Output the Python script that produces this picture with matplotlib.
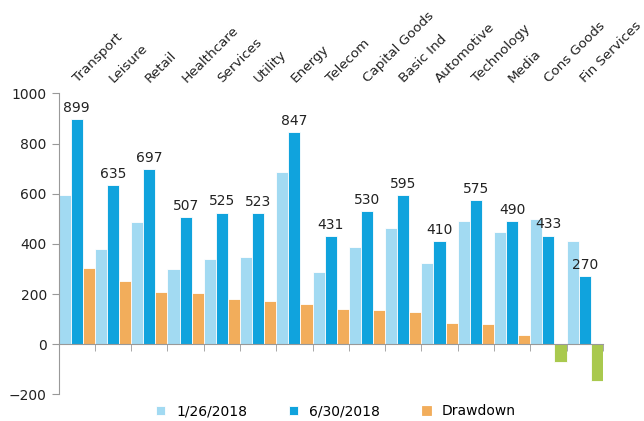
import numpy as np
import matplotlib.pyplot as plt

sectors = ['Transport', 'Leisure', 'Retail', 'Healthcare', 'Services', 'Utility', 'Energy',
           'Telecom', 'Capital Goods', 'Basic Ind', 'Automotive', 'Technology', 'Media',
           'Cons Goods', 'Fin Services']
jan_2018 = [595, 379, 486, 298, 339, 347, 685, 287, 388, 462, 322, 493, 448, 500, 412]
jun_2018 = [899, 635, 697, 507, 525, 523, 847, 431, 530, 595, 410, 575, 490, 433, 270]
drawdown = [302, 251, 207, 205, 181, 171, 160, 141, 137, 129, 84, 79, 36, -70, -146]

c_light = '#a2daf2'
c_dark = '#10a3dd'
c_orange = '#f2ad5b'
c_green = '#a9c94e'
grey = '#999999'

plt.rcParams['font.family'] = ['DejaVu Sans']

fig = plt.figure(figsize=(6.44, 4.21), dpi=100)
ax = fig.add_axes([0.091, 0.0634, 0.845, 0.7146])

x = np.arange(len(sectors))
w = 1 / 3
dd_colors = [c_orange if v >= 0 else c_green for v in drawdown]
ax.bar(x - w, jan_2018, w, color=c_light, edgecolor='white', linewidth=0.6, label='1/26/2018')
ax.bar(x, jun_2018, w, color=c_dark, edgecolor='white', linewidth=0.6, label='6/30/2018')
ax.bar(x + w, drawdown, w, color=dd_colors, edgecolor='white', linewidth=0.6, label='Drawdown')

for i, v in enumerate(jun_2018):
    ax.annotate(str(v), (x[i], v), xytext=(0, 3), textcoords='offset points',
                ha='center', va='bottom', fontsize=10, color='#222222')

# sector names along the top
for i, name in enumerate(sectors):
    ax.annotate(name, (x[i], 1), xycoords=ax.get_xaxis_transform(),
                xytext=(0.5, 7.5), textcoords='offset points', rotation=45,
                rotation_mode='anchor', ha='left', va='baseline', fontsize=9.7, color='#222222')

ax.set_xlim(-0.5, len(sectors) - 0.5)
ax.set_ylim(-200, 1000)
ax.set_yticks(range(-200, 1001, 200))
ax.set_xticks([])
ax.set_xticks(np.arange(-0.5, len(sectors)), minor=True)
ax.tick_params(axis='x', which='minor', length=5, color=grey, labelbottom=False)
ax.tick_params(axis='y', length=5, color=grey, labelsize=10, labelcolor='#222222')

for s in ['top', 'right']:
    ax.spines[s].set_visible(False)
ax.spines['bottom'].set_position(('data', 0))
ax.spines['bottom'].set_color(grey)
ax.spines['left'].set_color(grey)

leg = ax.legend(loc='upper center', bbox_to_anchor=(0.51, 0.008), ncol=3, frameon=False,
                fontsize=10, handlelength=0.65, handleheight=0.65, columnspacing=3.0,
                handletextpad=0.8)
leg.legend_handles[2].set_color(c_orange)

fig.savefig('out.png', dpi=100)
